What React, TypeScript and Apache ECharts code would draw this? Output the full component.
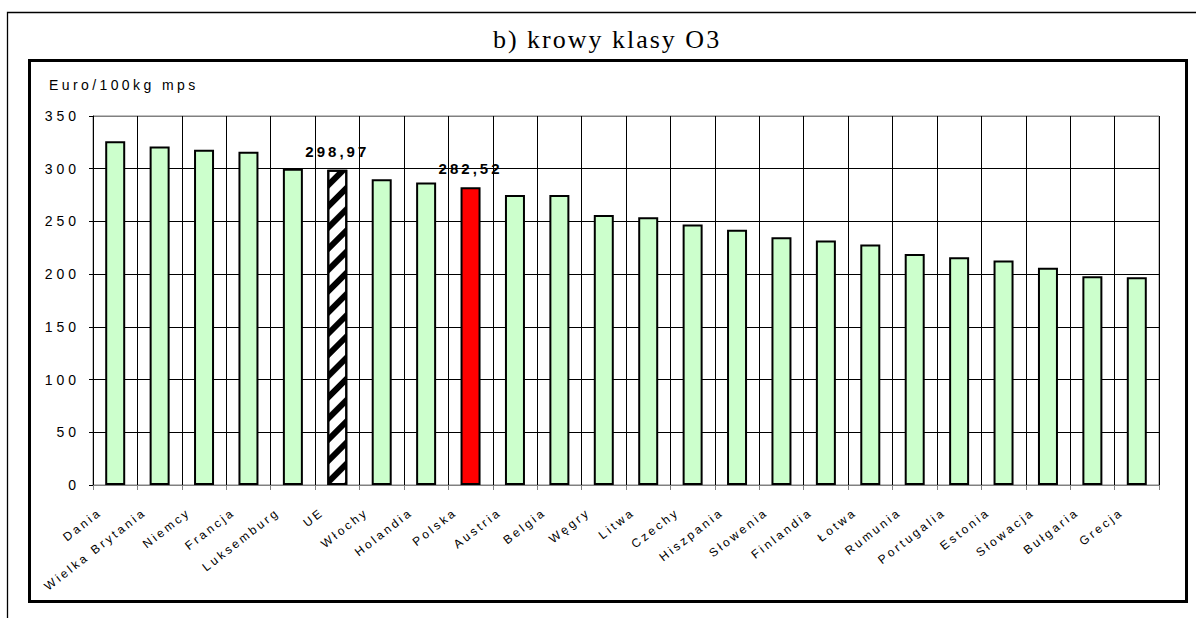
import React, { useEffect, useRef } from 'react';
import * as echarts from 'echarts';

const titleText = 'b) krowy klasy O3';
const unitLabel = 'Euro/100kg mps';

const categories = [
  'Dania', 'Wielka Brytania', 'Niemcy', 'Francja', 'Luksemburg', 'UE', 'Włochy',
  'Holandia', 'Polska', 'Austria', 'Belgia', 'Węgry', 'Litwa', 'Czechy',
  'Hiszpania', 'Słowenia', 'Finlandia', 'Łotwa', 'Rumunia', 'Portugalia',
  'Estonia', 'Słowacja', 'Bułgaria', 'Grecja',
];

const values = [
  326, 321, 318, 316, 300, 298.97, 290,
  287, 282.52, 275, 275, 256, 254, 247,
  242, 235, 232, 228, 219, 216,
  213, 206, 198, 197,
];

const euCategory = 'UE';
const plCategory = 'Polska';

const yMin = 0;
const yMax = 350;
const yInterval = 50;

const css = `
.rs-chart text[style*="ytk"] { letter-spacing: 4px; }
.rs-chart text[style*="xlb"] { letter-spacing: 2.8px; }
.rs-chart text[style*="dlb"] { letter-spacing: 3px; }
.rs-chart text[style*="unt"] { letter-spacing: 3.4px; }
.rs-chart text[style*="ttl"] { letter-spacing: 2px; }
`;

export default function App() {
  const ref = useRef<HTMLDivElement>(null);

  useEffect(() => {
    if (!ref.current) return;
    const chart = echarts.init(ref.current, null, { renderer: 'svg' });

    const data = values.map((v, i) => {
      const name = categories[i];
      if (name === euCategory) {
        return {
          value: v,
          itemStyle: {
            color: '#ffffff',
            decal: {
              symbol: 'rect',
              symbolSize: 1,
              color: '#000000',
              backgroundColor: '#ffffff',
              dashArrayX: [1, 0],
              dashArrayY: [6, 9],
              rotation: -Math.PI / 4,
            },
          },
          label: { show: true },
        };
      }
      if (name === plCategory) {
        return { value: v, itemStyle: { color: '#ff0000' }, label: { show: true } };
      }
      return v;
    });

    const ySplitCount = Math.round((yMax - yMin) / yInterval) + 1;
    const ySplitColors = Array.from({ length: ySplitCount }, (_, i) =>
      i === ySplitCount - 1 ? '#808080' : '#000000'
    );

    chart.setOption({
      animation: false,
      backgroundColor: '#ffffff',
      grid: {
        left: 93,
        right: 37,
        top: 116,
        bottom: 133,
        show: true,
        borderColor: '#808080',
        borderWidth: 1,
        backgroundColor: '#ffffff',
      },
      graphic: [
        {
          type: 'polyline',
          silent: true,
          shape: { points: [[7.5, 700], [7.5, 12.5], [1400, 12.5]] },
          style: { fill: 'none', stroke: '#000', lineWidth: 1.3 },
        },
        {
          type: 'rect',
          silent: true,
          shape: { x: 29.5, y: 60.5, width: 1157, height: 541 },
          style: { fill: 'none', stroke: '#000', lineWidth: 3 },
        },
        {
          type: 'text',
          silent: true,
          x: 607,
          y: 39,
          style: {
            text: titleText,
            font: "26px 'Liberation Serif', ttl",
            fill: '#000',
            textAlign: 'center',
            textVerticalAlign: 'middle',
          },
        },
        {
          type: 'text',
          silent: true,
          x: 49,
          y: 85,
          style: {
            text: unitLabel,
            font: "14px 'Liberation Sans', unt",
            fill: '#000',
            textAlign: 'left',
            textVerticalAlign: 'middle',
          },
        },
      ],
      xAxis: {
        type: 'category',
        data: categories,
        boundaryGap: true,
        axisLine: { show: true, lineStyle: { color: '#808080', width: 1 } },
        axisTick: { show: true, length: 5, lineStyle: { color: '#808080' } },
        splitLine: { show: true, interval: 0, lineStyle: { color: '#000', width: 1 } },
        axisLabel: {
          interval: 0,
          rotate: 38,
          margin: 14,
          padding: [0, 19, 0, 0],
          color: '#000',
          fontSize: 12,
          fontFamily: "'Liberation Sans', xlb",
        },
      },
      yAxis: {
        type: 'value',
        min: yMin,
        max: yMax,
        interval: yInterval,
        axisLine: { show: true, lineStyle: { color: '#000', width: 1 } },
        axisTick: { show: true, length: 4, lineStyle: { color: '#000' } },
        splitLine: { show: true, lineStyle: { color: ySplitColors, width: 1 } },
        axisLabel: {
          margin: 13,
          color: '#000',
          fontSize: 14,
          fontFamily: "'Liberation Sans', ytk",
        },
      },
      series: [
        {
          type: 'bar',
          data,
          barWidth: 20,
          itemStyle: { color: '#ccffcc', borderColor: '#000', borderWidth: 2 },
          label: {
            show: false,
            position: 'top',
            distance: 11,
            color: '#000',
            fontSize: 15,
            fontWeight: 'bold',
            fontFamily: "'Liberation Sans', dlb",
            formatter: (p: any) => Number(p.value).toFixed(2).replace('.', ','),
          },
        },
      ],
    });

    return () => chart.dispose();
  }, []);

  return (
    <div style={{ position: 'fixed', left: 0, top: 0, width: 1196, height: 618, background: '#fff' }}>
      <style>{css}</style>
      <div ref={ref} className="rs-chart" style={{ width: 1196, height: 618 }} />
    </div>
  );
}
